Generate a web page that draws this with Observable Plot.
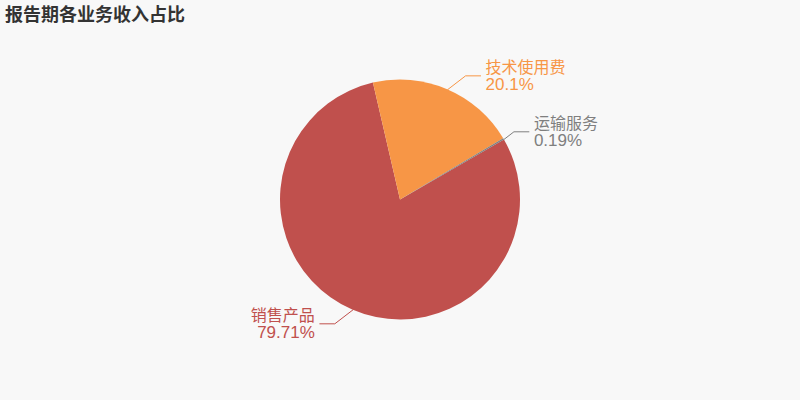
<!DOCTYPE html>
<html>
<head>
<meta charset="utf-8">
<script src="https://cdn.jsdelivr.net/npm/d3@7"></script>
<script src="https://cdn.jsdelivr.net/npm/@observablehq/plot@0.6"></script>
<style>
  html, body { margin: 0; padding: 0; background: #f8f8f8; }
  #wrap { width: 800px; height: 400px; overflow: hidden; font-family: "Noto Sans CJK SC", "Noto Sans", sans-serif; }
  #title { height: 30px; line-height: 27px; padding-left: 5px; font-size: 18px; font-weight: bold; color: #333; }
</style>
</head>
<body>
<div id="wrap">
  <div id="title">报告期各业务收入占比</div>
  <div id="chart"></div>
</div>
<script>
const names = ["销售产品", "技术使用费", "运输服务"];
const shares = [79.71, 20.1, 0.19];
const pctLabels = ["79.71%", "20.1%", "0.19%"];
const colors = ["#c0504d", "#f79646", "#7f7f7f"];

const data = names.map((name, i) => ({name, share: shares[i], pct: pctLabels[i], color: colors[i]}));

const startDeg = 60;
const arcs = d3.pie().value(d => d.share).sort(null)
  .startAngle(startDeg * Math.PI / 180)
  .endAngle(startDeg * Math.PI / 180 + 2 * Math.PI)(data);

const R = 120; // pixels per unit
const len1 = 15 / R, len2 = 15 / R;

const lineRows = [];
const labelRows = [];
for (const a of arcs) {
  const mid = (a.startAngle + a.endAngle) / 2;
  const ux = Math.sin(mid), uy = Math.cos(mid);
  const s = ux >= 0 ? 1 : -1;
  const y2 = uy * (1 + len1);
  const x2 = ux + s * 1.3 * Math.abs(y2 - uy);
  const x3 = x2 + s * len2;
  lineRows.push({name: a.data.name, x: ux, y: uy});
  lineRows.push({name: a.data.name, x: x2, y: y2});
  lineRows.push({name: a.data.name, x: x3, y: y2});
  labelRows.push({name: a.data.name, pct: a.data.pct, x: x3, y: y2, side: s});
}

const H = 370;
const cy = 199.5 - 30;

const pieMark = (index, scales) => {
  const sx = scales.x, sy = scales.y;
  const cx0 = sx(0), cy0 = sy(0), r = sx(1) - sx(0);
  const g = d3.create("svg:g");
  g.selectAll("path").data(arcs).join("path")
    .attr("transform", `translate(${cx0},${cy0})`)
    .attr("d", d3.arc().innerRadius(0).outerRadius(r))
    .attr("fill", d => d.data.color);
  return g.node();
};

const nameFont = "'Noto Sans CJK SC', sans-serif";
const pctFont = "'Liberation Sans', Arial, sans-serif";

const right = labelRows.filter(d => d.side > 0);
const left = labelRows.filter(d => d.side < 0);

const chart = Plot.plot({
  width: 800,
  height: H,
  margin: 0,
  style: {background: "transparent", fontFamily: nameFont},
  x: {domain: [-1, 1], range: [400 - R, 400 + R], axis: null},
  y: {domain: [-1, 1], range: [cy + R, cy - R], axis: null},
  color: {domain: names, range: colors},
  marks: [
    pieMark,
    Plot.line(lineRows, {x: "x", y: "y", z: "name", stroke: "name", strokeWidth: 1}),
    Plot.text(right, {x: "x", y: "y", text: "name", fill: "name", textAnchor: "start",
      dx: 5, dy: -8, fontSize: 16, lineAnchor: "middle", fontFamily: nameFont}),
    Plot.text(right, {x: "x", y: "y", text: "pct", fill: "name", textAnchor: "start",
      dx: 5, dy: 8.5, fontSize: 17, lineAnchor: "middle", fontFamily: pctFont}),
    Plot.text(left, {x: "x", y: "y", text: "name", fill: "name", textAnchor: "end",
      dx: -5, dy: -8, fontSize: 16, lineAnchor: "middle", fontFamily: nameFont}),
    Plot.text(left, {x: "x", y: "y", text: "pct", fill: "name", textAnchor: "end",
      dx: -5, dy: 8.5, fontSize: 17, lineAnchor: "middle", fontFamily: pctFont})
  ]
});
document.getElementById("chart").appendChild(chart);
</script>
</body>
</html>
